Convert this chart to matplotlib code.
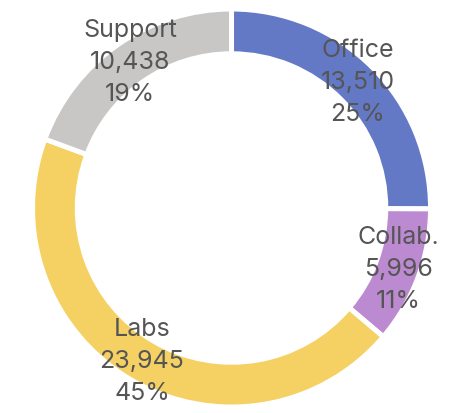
import numpy as np
import matplotlib
matplotlib.use("Agg")
import matplotlib.pyplot as plt

# Department spending breakdown
categories = ["Office", "Collab.", "Labs", "Support"]
values = [13510, 5996, 23945, 10438]
percent_labels = ["25%", "11%", "45%", "19%"]
colors = ["#6479C6", "#BC8AD0", "#F5D164", "#C9C7C6"]

fig = plt.figure(figsize=(4.75, 4.13), dpi=100)
ax = fig.add_axes([0.0684, 0.0145, 0.838, 0.9637])

ring_width = 0.225
wedges, _ = ax.pie(
    values,
    colors=colors,
    startangle=90,
    counterclock=False,
    radius=1.0,
    wedgeprops=dict(width=ring_width, edgecolor="white", linewidth=3.6),
)

label_r = 1.0 - ring_width / 2 + 0.005
for w, name, v, pct in zip(wedges, categories, values, percent_labels):
    mid = np.deg2rad((w.theta1 + w.theta2) / 2)
    x, y = label_r * np.cos(mid), label_r * np.sin(mid)
    ax.text(x, y, f"{name}\n{v:,}\n{pct}", ha="center", va="center",
            fontsize=18, family="Inter", color="#555555",
            linespacing=1.5)

ax.set_xlim(-1, 1)
ax.set_ylim(-1, 1)
ax.set_aspect("equal")
ax.axis("off")

fig.savefig("out.png", dpi=100)
